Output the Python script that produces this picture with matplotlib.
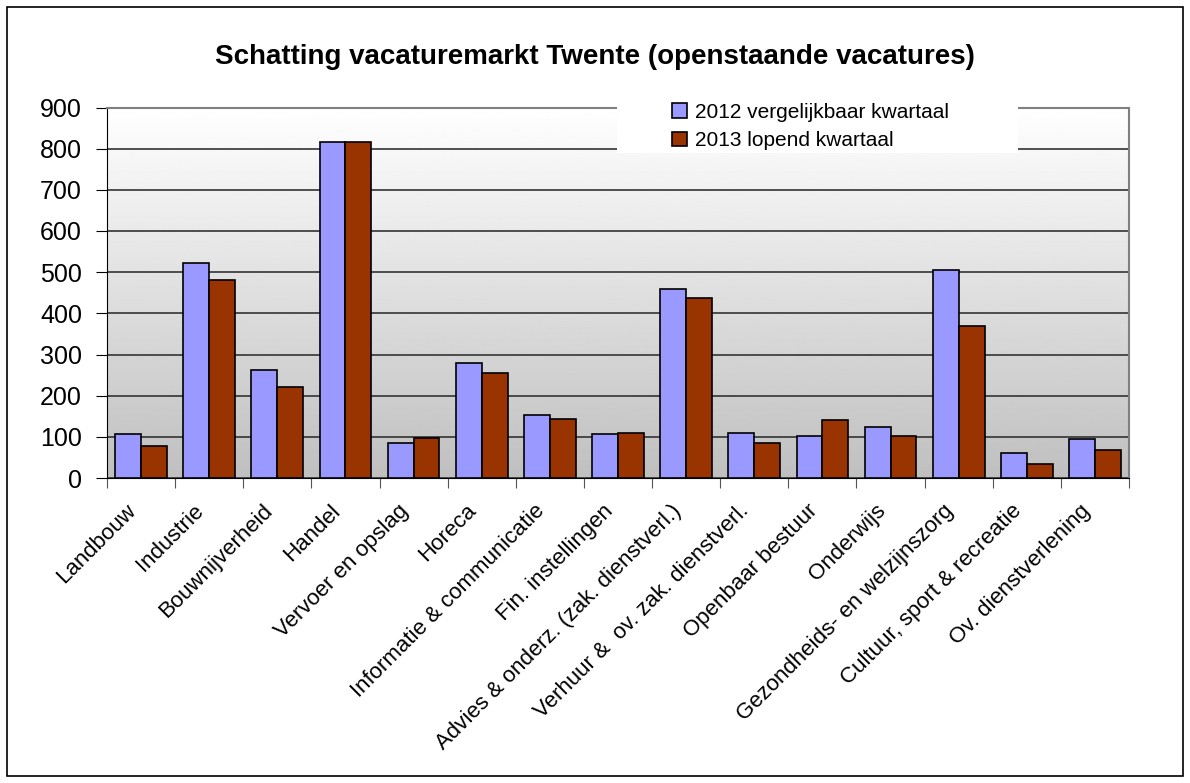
import numpy as np
import matplotlib
matplotlib.use("Agg")
import matplotlib.pyplot as plt
from matplotlib.patches import Rectangle

plt.rcParams['font.family'] = ['Liberation Sans', 'DejaVu Sans']

categories = ["Landbouw", "Industrie", "Bouwnijverheid", "Handel", "Vervoer en opslag",
              "Horeca", "Informatie & communicatie", "Fin. instellingen",
              "Advies & onderz. (zak. dienstverl.)", "Verhuur &  ov. zak. dienstverl.",
              "Openbaar bestuur", "Onderwijs", "Gezondheids- en welzijnszorg",
              "Cultuur, sport & recreatie", "Ov. dienstverlening"]
vals_2012 = [107, 522, 263, 815, 85, 280, 153, 107, 459, 110, 102, 123, 505, 60, 94]
vals_2013 = [77, 480, 221, 815, 97, 254, 144, 110, 437, 85, 140, 102, 370, 34, 68]
series_labels = ["2012 vergelijkbaar kwartaal", "2013 lopend kwartaal"]
yticks = [0, 100, 200, 300, 400, 500, 600, 700, 800, 900]


def main():
	fig = plt.figure(figsize=(11.9, 7.83), dpi=100)
	fig.patches.append(Rectangle((0.006, 0.009), 0.988, 0.982, transform=fig.transFigure,
	                             fill=False, edgecolor="black", linewidth=1.2))
	ax = fig.add_axes([107/1190, 1 - 478/783, (1129-107)/1190, (478-107.5)/783])

	n = len(categories)
	x = np.arange(n)
	w = 0.38

	# gradient background
	grad = np.linspace(1.0, 0.75, 256).reshape(-1, 1)
	ax.imshow(grad, cmap="gray", vmin=0, vmax=1, aspect="auto",
	          extent=[-0.5, n - 0.5, 0, 900], zorder=0)

	ax.bar(x - w/2, vals_2012, w, color="#9999ff", edgecolor="black", linewidth=1.2,
	       label=series_labels[0], zorder=3)
	ax.bar(x + w/2, vals_2013, w, color="#993300", edgecolor="black", linewidth=1.2,
	       label=series_labels[1], zorder=3)

	ax.set_xlim(-0.5, n - 0.5)
	ax.set_ylim(0, 900)
	ax.set_yticks(yticks)
	ax.set_yticklabels([str(v) for v in yticks], fontsize=18)
	ax.yaxis.grid(True, color="#333333", linewidth=1.2, zorder=1)
	ax.set_axisbelow(True)

	# category boundaries as major ticks, labels on invisible minor ticks
	ax.set_xticks(np.arange(n + 1) - 0.5)
	ax.set_xticklabels([])
	ax.set_xticks(x - 0.23, minor=True)
	ax.set_xticklabels(categories, minor=True, rotation=45, ha="right",
	                   rotation_mode="anchor", fontsize=16)
	ax.tick_params(axis="x", which="minor", length=0, pad=16)
	ax.tick_params(axis="x", which="major", length=7, color="#555555")
	ax.tick_params(axis="y", length=8, pad=10)

	for s in ["top", "right"]:
		ax.spines[s].set_color("#808080")
		ax.spines[s].set_linewidth(1.5)
	ax.spines["left"].set_color("black")
	ax.spines["bottom"].set_color("black")

	# white box behind the legend
	ax.add_patch(Rectangle((0.499, 0.877), 0.392, 0.15, transform=ax.transAxes,
	                       facecolor="white", edgecolor="none", zorder=4, clip_on=False))
	ax.legend(loc="upper left", bbox_to_anchor=(0.553, 1.012), fontsize=15,
	          frameon=False, handlelength=0.7, handleheight=0.7, handletextpad=0.4,
	          borderpad=0, labelspacing=0.45, borderaxespad=0).set_zorder(5)

	fig.text(0.5, 1 - 57/783, "Schatting vacaturemarkt Twente (openstaande vacatures)",
	         ha="center", va="center", fontsize=20, fontweight="bold")

	plt.savefig("out.png", dpi=100)


if __name__ == "__main__":
	main()
